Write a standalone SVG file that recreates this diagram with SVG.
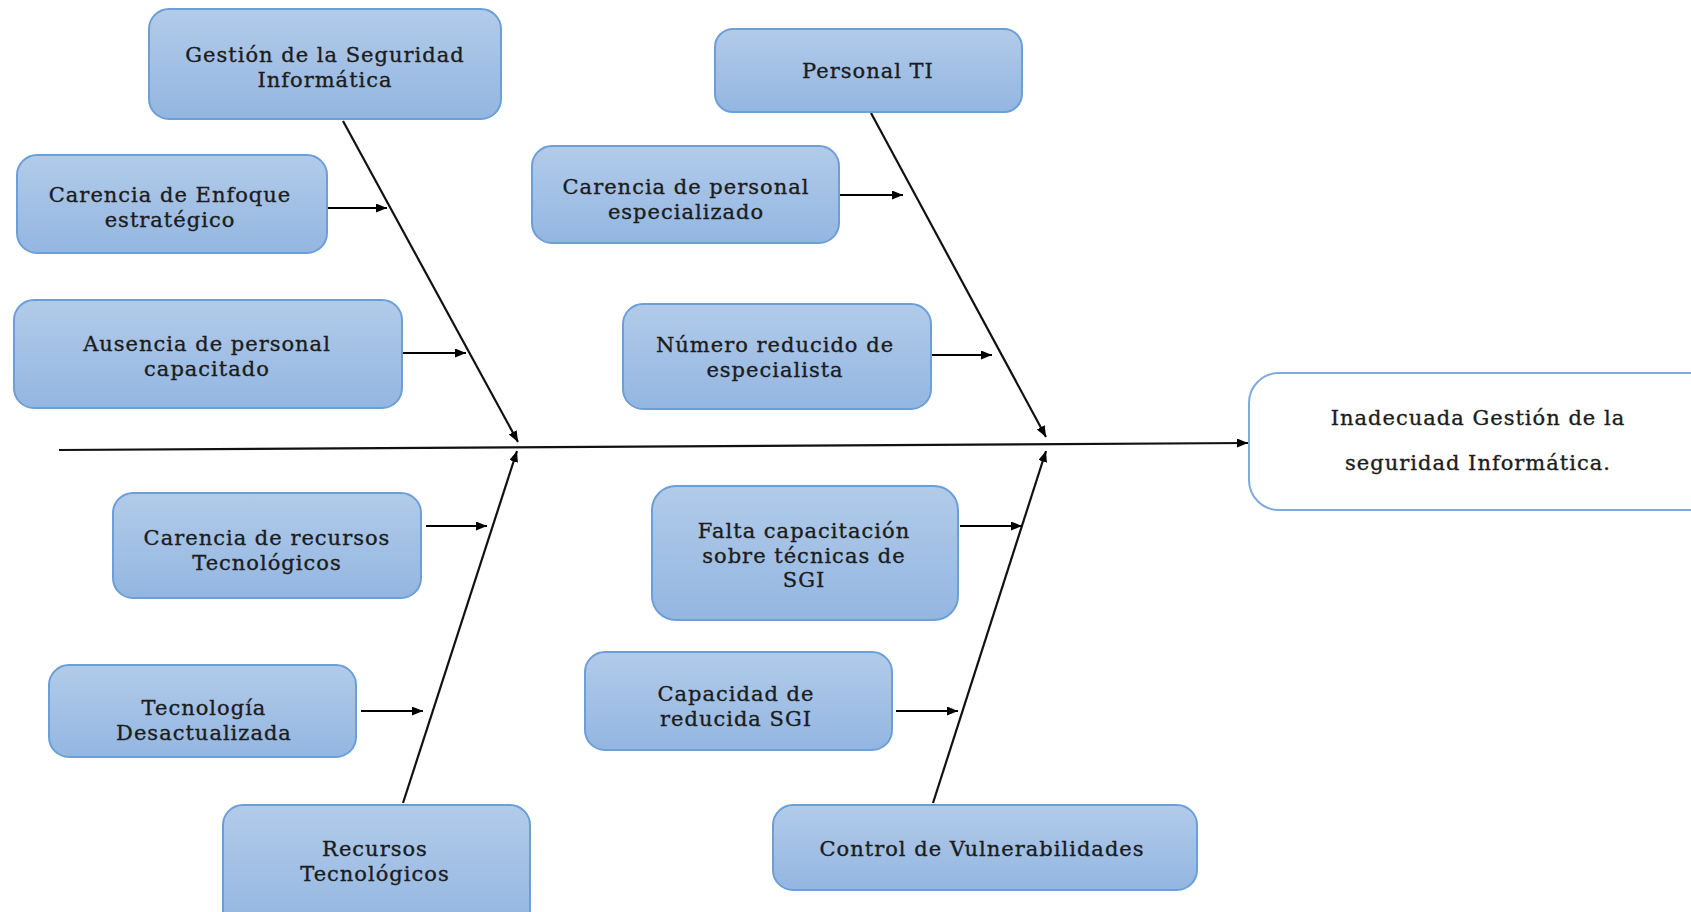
<svg xmlns="http://www.w3.org/2000/svg" width="1691" height="912" viewBox="0 0 1691 912">
<defs>
<linearGradient id="bg" x1="0" y1="0" x2="0" y2="1">
<stop offset="0" stop-color="#b2cbe9"/>
<stop offset="1" stop-color="#93b6e1"/>
</linearGradient>
<marker id="ah" markerUnits="userSpaceOnUse" markerWidth="12" markerHeight="10" refX="11" refY="4.5" orient="auto">
<path d="M0,0 L11,4.5 L0,9 z" fill="#000"/>
</marker>
</defs>
<style>
.box{fill:url(#bg);stroke:#6c9fd6;stroke-width:2}
.eff{fill:#fff;stroke:#7eaadd;stroke-width:2}
text{font-family:"DejaVu Serif","Liberation Serif",serif;font-size:21px;letter-spacing:1px;fill:#1c1c1c;stroke:#1c1c1c;stroke-width:0.35;text-anchor:middle}
.bone{stroke:#111;stroke-width:2.2;fill:none;marker-end:url(#ah)}
.sub{stroke:#000;stroke-width:1.8;fill:none;marker-end:url(#ah)}
</style>
<rect width="1691" height="912" fill="#fff"/>
<g id="connectors">
<line class="bone" x1="59" y1="450" x2="1248" y2="443"/>
<line class="bone" x1="343" y1="121" x2="518" y2="442"/>
<line class="bone" x1="403" y1="803" x2="517" y2="451"/>
<line class="bone" x1="871" y1="113" x2="1046" y2="437"/>
<line class="bone" x1="933" y1="803" x2="1046" y2="451"/>
<line class="sub" x1="328" y1="208" x2="387" y2="208"/>
<line class="sub" x1="403" y1="353" x2="466" y2="353"/>
<line class="sub" x1="840" y1="195" x2="903" y2="195"/>
<line class="sub" x1="932" y1="355" x2="992" y2="355"/>
<line class="sub" x1="426" y1="526" x2="487" y2="526"/>
<line class="sub" x1="361" y1="711" x2="423" y2="711"/>
<line class="sub" x1="960" y1="526" x2="1022" y2="526"/>
<line class="sub" x1="896" y1="711" x2="958" y2="711"/>
</g>
<g id="n1"><rect class="box" x="149" y="9" width="352" height="110" rx="20"/><text x="325" y="62">Gestión de la Seguridad</text><text x="325" y="86.5">Informática</text></g>
<g id="n2"><rect class="box" x="17" y="155" width="310" height="98" rx="20"/><text x="170" y="202">Carencia de Enfoque</text><text x="170" y="226.5">estratégico</text></g>
<g id="n3"><rect class="box" x="14" y="300" width="388" height="108" rx="20"/><text x="207" y="351">Ausencia de personal</text><text x="207" y="375.5">capacitado</text></g>
<g id="n4"><rect class="box" x="715" y="29" width="307" height="83" rx="18"/><text x="868" y="78">Personal TI</text></g>
<g id="n5"><rect class="box" x="532" y="146" width="307" height="97" rx="20"/><text x="686" y="194">Carencia de personal</text><text x="686" y="218.5">especializado</text></g>
<g id="n6"><rect class="box" x="623" y="304" width="308" height="105" rx="20"/><text x="775" y="352">Número reducido de</text><text x="775" y="376.5">especialista</text></g>
<g id="n7"><rect class="eff" x="1249" y="373" width="470" height="137" rx="30"/><text x="1478" y="425">Inadecuada Gestión de la</text><text x="1478" y="470">seguridad Informática.</text></g>
<g id="n8"><rect class="box" x="113" y="493" width="308" height="105" rx="20"/><text x="267" y="545">Carencia de recursos</text><text x="267" y="569.5">Tecnológicos</text></g>
<g id="n9"><rect class="box" x="49" y="665" width="307" height="92" rx="20"/><text x="204" y="715">Tecnología</text><text x="204" y="739.5">Desactualizada</text></g>
<g id="n10"><rect class="box" x="223" y="805" width="307" height="125" rx="20"/><text x="375" y="856">Recursos</text><text x="375" y="880.5">Tecnológicos</text></g>
<g id="n11"><rect class="box" x="652" y="486" width="306" height="134" rx="24"/><text x="804" y="538">Falta capacitación</text><text x="804" y="562.5">sobre técnicas de</text><text x="804" y="587">SGI</text></g>
<g id="n12"><rect class="box" x="585" y="652" width="307" height="98" rx="20"/><text x="736" y="701">Capacidad de</text><text x="736" y="725.5">reducida SGI</text></g>
<g id="n13"><rect class="box" x="773" y="805" width="424" height="85" rx="20"/><text x="982" y="856">Control de Vulnerabilidades</text></g>
</svg>
